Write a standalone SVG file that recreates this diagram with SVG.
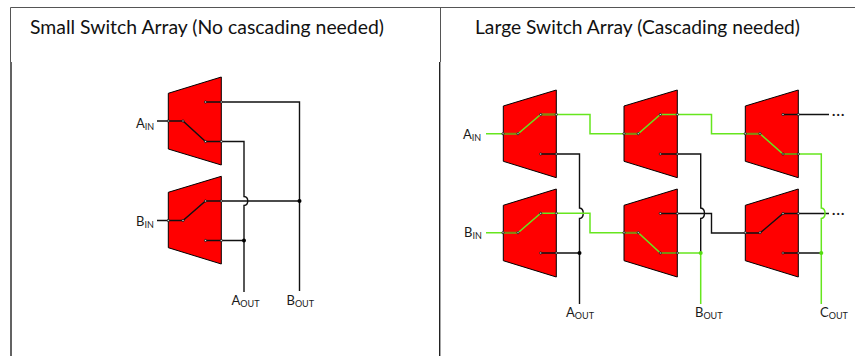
<svg xmlns="http://www.w3.org/2000/svg" width="855" height="356" viewBox="0 0 855 356">
<style>
.mux{fill:#ff0000;stroke:#000;stroke-width:1}
.title{font-family:"Lato","Liberation Sans",sans-serif;font-size:19.5px;fill:#111}
.lab{font-family:"Lato","Liberation Sans",sans-serif;font-size:13px;fill:#1a1a1a}
.sub{font-size:9px}
.more{font-family:"Lato","Liberation Sans",sans-serif;font-size:14px;font-weight:900;letter-spacing:1.2px;fill:#1a1a1a}
.w{fill:none;stroke:#111;stroke-width:1.4}
.g{fill:none;stroke:#66e61e;stroke-width:1.5}
.o{fill:none;stroke:#7d8a10;stroke-width:1.8}
.d{fill:#ddd;stroke:#111;stroke-width:.8}
.b{fill:#000}
.gd{fill:#55dd11}
.f{stroke:#555;fill:none;stroke-width:1}
</style>
<g id="frame">
<path class="f" d="M855 7.500H10.500V62M440.500 7.500V62"/>
<path fill="none" stroke="#222" stroke-width="1.400" d="M11 62V356M439.700 62V356"/>
</g>
<g id="titles">
<text class="title" x="30" y="34" textLength="354" lengthAdjust="spacingAndGlyphs">Small Switch Array (No cascading needed)</text>
<text class="title" x="475" y="34" textLength="325" lengthAdjust="spacingAndGlyphs">Large Switch Array (Cascading needed)</text>
</g>
<g id="mux-l1"><path class="mux" d="M168.300 93.300L221.300 77V165L168.300 149Z"/></g>
<g id="mux-l2"><path class="mux" d="M168.300 192.300L221.300 176.300V264L168.300 247.700Z"/></g>
<g id="mux-r11"><path class="mux" d="M503.300 106L556.300 90V177.700L503.300 161.300Z"/></g>
<g id="mux-r12"><path class="mux" d="M624 106L677.300 90V177.700L624 161.300Z"/></g>
<g id="mux-r13"><path class="mux" d="M745.300 106L798.300 90V177.700L745.300 161.300Z"/></g>
<g id="mux-r21"><path class="mux" d="M503.300 205.300L556.300 189V277L503.300 260.700Z"/></g>
<g id="mux-r22"><path class="mux" d="M624 205.300L677.300 189V277L624 260.700Z"/></g>
<g id="mux-r23"><path class="mux" d="M745.300 205.300L798.300 189V277L745.300 260.700Z"/></g>
<g id="connectors">
<path class="w" d="M157 121H183L205.500 141.500H244V196.500C249 197 249 205 244 205.500V292M205.500 102H299.500V291"/>
<path class="w" d="M157 220.500H183L205.500 201H299.500M205.500 240.500H244"/>
<path class="w" d="M540.700 154H579.500V208C584.500 208.500 584.500 218 579.500 218.500V304M540.700 253H579.500"/>
<path class="w" d="M660.300 154H700.700V208C705.700 208.500 705.700 218 700.700 218.500V253"/>
<path class="w" d="M660.300 213.500H711.500V233H760L783 213.500H829M783 114.500H829M783 253H821.300"/>
<path class="g" d="M486 133.700H518L540.700 114.500H590V133.700H638.300L660.300 114.500H711.500V133.700H760L783 154H821.300V208C826.300 208.500 826.300 218 821.300 218.500V304"/>
<path class="g" d="M486 232.700H518L540.700 213.300H590V232.700H638.300L660.300 253H700.700V304"/>
<path class="o" d="M503 133.700H518M624 133.700H638.300M745.300 133.700H760M783 154H798.500M503 232.700H518M624 232.700H638.300M540.700 114.500H556M660.300 253H677"/>
<circle class="b" cx="244" cy="240.500" r="2"/>
<circle class="b" cx="299.500" cy="201" r="2"/>
<circle class="b" cx="579.500" cy="253" r="2"/>
<circle class="gd" cx="700.700" cy="253" r="2"/>
<circle class="gd" cx="821.300" cy="253" r="2"/>
</g>
<g id="dots">
<circle class="d" cx="168.300" cy="121" r="1.100"/><circle class="d" cx="183" cy="121" r="1.100"/><circle class="d" cx="205.500" cy="102" r="1.100"/><circle class="d" cx="221.300" cy="102" r="1.100"/><circle class="d" cx="205.500" cy="141.500" r="1.100"/><circle class="d" cx="221.300" cy="141.500" r="1.100"/>
<circle class="d" cx="168.300" cy="220.500" r="1.100"/><circle class="d" cx="183" cy="220.500" r="1.100"/><circle class="d" cx="205.500" cy="201" r="1.100"/><circle class="d" cx="221.300" cy="201" r="1.100"/><circle class="d" cx="205.500" cy="240.500" r="1.100"/><circle class="d" cx="221.300" cy="240.500" r="1.100"/>
<circle class="d" cx="503" cy="133.700" r="1.100"/><circle class="d" cx="518" cy="133.700" r="1.100"/><circle class="d" cx="540.700" cy="114.500" r="1.100"/><circle class="d" cx="556.300" cy="114.500" r="1.100"/><circle class="d" cx="540.700" cy="154" r="1.100"/><circle class="d" cx="556.300" cy="154" r="1.100"/>
<circle class="d" cx="624" cy="133.700" r="1.100"/><circle class="d" cx="638.300" cy="133.700" r="1.100"/><circle class="d" cx="660.300" cy="114.500" r="1.100"/><circle class="d" cx="677.300" cy="114.500" r="1.100"/><circle class="d" cx="660.300" cy="154" r="1.100"/><circle class="d" cx="677.300" cy="154" r="1.100"/>
<circle class="d" cx="745.300" cy="133.700" r="1.100"/><circle class="d" cx="760" cy="133.700" r="1.100"/><circle class="d" cx="783" cy="114.500" r="1.100"/><circle class="d" cx="798.300" cy="114.500" r="1.100"/><circle class="d" cx="783" cy="154" r="1.100"/><circle class="d" cx="798.300" cy="154" r="1.100"/>
<circle class="d" cx="503" cy="232.700" r="1.100"/><circle class="d" cx="518" cy="232.700" r="1.100"/><circle class="d" cx="540.700" cy="213.300" r="1.100"/><circle class="d" cx="556.300" cy="213.300" r="1.100"/><circle class="d" cx="540.700" cy="253" r="1.100"/><circle class="d" cx="556.300" cy="253" r="1.100"/>
<circle class="d" cx="624" cy="232.700" r="1.100"/><circle class="d" cx="638.300" cy="232.700" r="1.100"/><circle class="d" cx="660.300" cy="213.500" r="1.100"/><circle class="d" cx="677.300" cy="213.500" r="1.100"/><circle class="d" cx="660.300" cy="253" r="1.100"/><circle class="d" cx="677.300" cy="253" r="1.100"/>
<circle class="d" cx="745.300" cy="232.700" r="1.100"/><circle class="d" cx="760" cy="232.700" r="1.100"/><circle class="d" cx="783" cy="213.500" r="1.100"/><circle class="d" cx="798.300" cy="213.500" r="1.100"/><circle class="d" cx="783" cy="253" r="1.100"/><circle class="d" cx="798.300" cy="253" r="1.100"/>
</g>
<g id="labels">
<text class="lab" x="136" y="128">A<tspan class="sub" dy="2">IN</tspan></text>
<text class="lab" x="136" y="226">B<tspan class="sub" dy="2">IN</tspan></text>
<text class="lab" x="231.500" y="305">A<tspan class="sub" dy="2">OUT</tspan></text>
<text class="lab" x="286.500" y="305">B<tspan class="sub" dy="2">OUT</tspan></text>
<text class="lab" x="463" y="139">A<tspan class="sub" dy="2">IN</tspan></text>
<text class="lab" x="464" y="237">B<tspan class="sub" dy="2">IN</tspan></text>
<text class="lab" x="566" y="317">A<tspan class="sub" dy="2">OUT</tspan></text>
<text class="lab" x="695" y="317">B<tspan class="sub" dy="2">OUT</tspan></text>
<text class="lab" x="820" y="317">C<tspan class="sub" dy="2">OUT</tspan></text>
<text class="more" x="832" y="116">...</text>
<text class="more" x="832" y="215">...</text>
</g>
</svg>
